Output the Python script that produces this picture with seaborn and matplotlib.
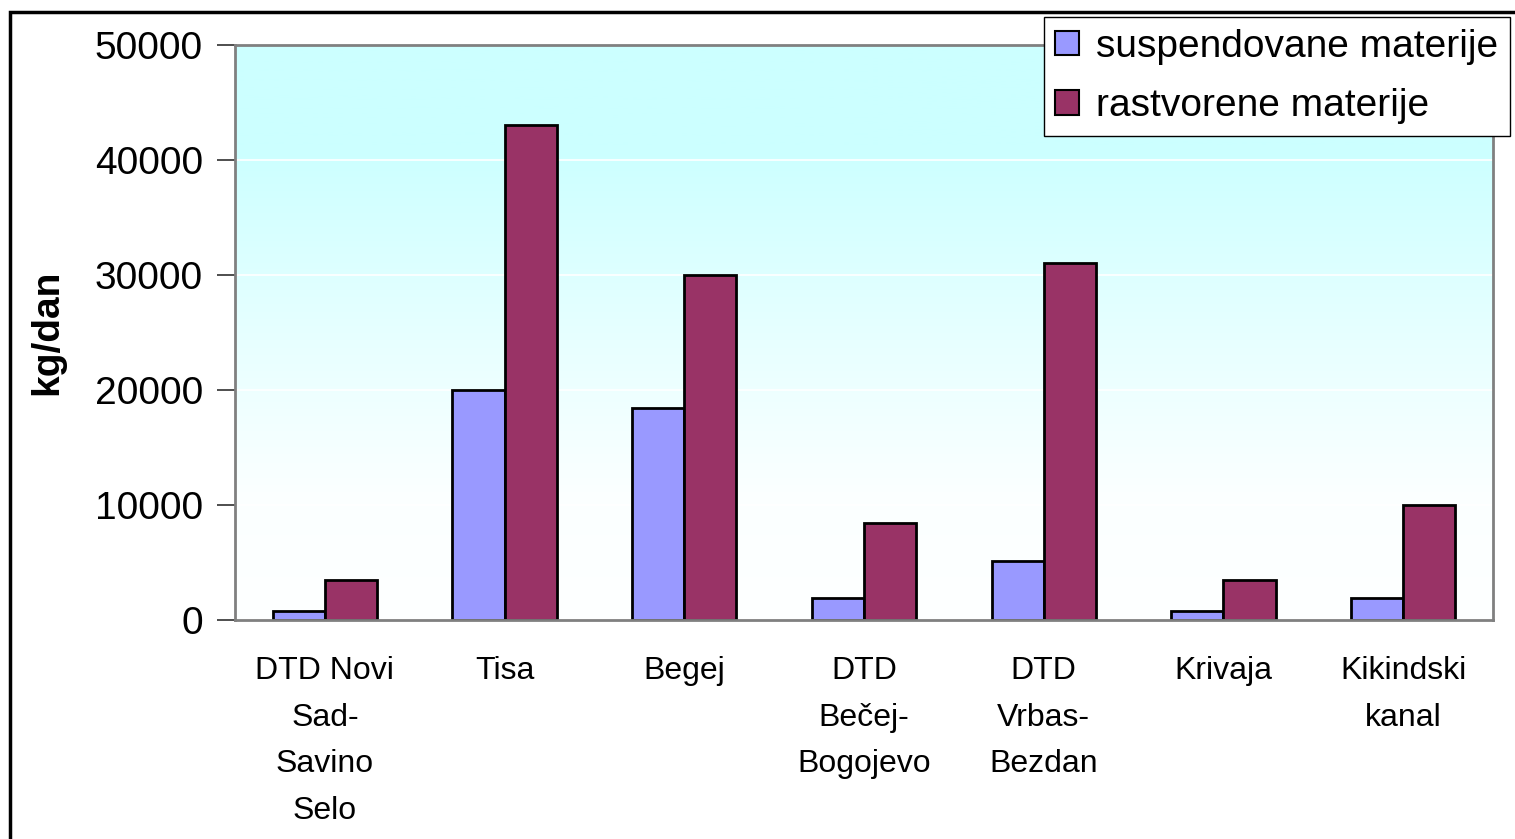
import numpy as np
import pandas as pd
import matplotlib
matplotlib.use("Agg")
import matplotlib.pyplot as plt
import seaborn as sns
from matplotlib.patches import Rectangle
from matplotlib.ticker import FixedLocator
from matplotlib.colors import LinearSegmentedColormap

categories = ["DTD Novi\nSad-\nSavino\nSelo", "Tisa", "Begej", "DTD\nBečej-\nBogojevo",
              "DTD\nVrbas-\nBezdan", "Krivaja", "Kikindski\nkanal"]
suspendovane = [800, 20000, 18400, 1900, 5100, 800, 1900]
rastvorene = [3500, 43000, 30000, 8400, 31000, 3500, 10000]
series_names = ["suspendovane materije", "rastvorene materije"]
series_colors = ["#9999FF", "#993366"]
y_ticks = [0, 10000, 20000, 30000, 40000, 50000]

df = pd.DataFrame({
    "cat": categories * 2,
    "val": suspendovane + rastvorene,
    "series": [series_names[0]] * len(categories) + [series_names[1]] * len(categories),
})

sns.set_style("white")
plt.rcParams["font.family"] = ["Liberation Sans", "DejaVu Sans"]
plt.rcParams["text.color"] = "black"
plt.rcParams["axes.labelcolor"] = "black"
plt.rcParams["xtick.color"] = "black"
plt.rcParams["ytick.color"] = "black"

W, H = 1515, 839
fig = plt.figure(figsize=(W / 100, H / 100), dpi=100)
ax = fig.add_axes([235 / W, 1 - 620 / H, (1493 - 235) / W, (620 - 45) / H])

sns.barplot(data=df, x="cat", y="val", hue="series", palette=series_colors,
            width=0.58, gap=0, edgecolor="black", linewidth=2.0, ax=ax,
            legend=True, zorder=3, saturation=1)

n = len(categories)
# gradient background: cyan at top, fading to near white at bottom
grad = np.linspace(0, 1, 512).reshape(-1, 1)
cmap = LinearSegmentedColormap.from_list(
    "bg", [(0.0, "#CCFFFF"), (0.18, "#CCFFFF"), (0.5, "#E6FFFF"), (0.78, "#FBFFFF"), (1.0, "#FEFFFF")])
ax.imshow(grad, aspect="auto", cmap=cmap, extent=(-0.5, n - 0.5, 0, 50000),
          zorder=0, origin="upper")
ax.set_xlim(-0.5, n - 0.5)
ax.set_ylim(0, 50000)

ax.set_yticks(y_ticks)
ax.set_yticklabels([str(v) for v in y_ticks], fontsize=28)
ax.yaxis.grid(True, color="white", linewidth=1.2)
for gl in ax.get_ygridlines():
    gl.set_zorder(1)

ax.set_xticks(range(n))
ax.set_xticklabels(categories, fontsize=23, linespacing=1.72, va="top")
ax.xaxis.set_minor_locator(FixedLocator(np.arange(-0.5, n, 1.0)))
ax.tick_params(axis="x", which="major", length=0, pad=26)
ax.tick_params(axis="x", which="minor", length=9, width=1.3, color="#404040", direction="out")
ax.tick_params(axis="y", which="major", length=13, width=1.3, color="#404040", direction="out",
               pad=10, left=True)

ax.set_xlabel("")
ax.set_ylabel("kg/dan", fontsize=28, fontweight="bold", labelpad=21)

for s in ax.spines.values():
    s.set_visible(True)
    s.set_color("#808080")
    s.set_linewidth(2)
    s.set_zorder(4)

handles, labels = ax.get_legend_handles_labels()
ax.legend_.remove()
leg = fig.legend(handles, labels, loc="upper right", bbox_to_anchor=(1510 / W, 1 - 17 / H),
                 fontsize=28, frameon=True, fancybox=False, framealpha=1, edgecolor="black",
                 handlelength=0.6, handleheight=0.6, handletextpad=0.45, labelspacing=0.6,
                 borderpad=0.3, borderaxespad=0)
leg.get_frame().set_linewidth(1)
for h in leg.legend_handles:
    h.set_edgecolor("black")
    h.set_linewidth(1.5)

# figure border (top and left visible)
fig.add_artist(Rectangle((10 / W, -0.5), 2.0, 1 - 12 / H + 0.5, transform=fig.transFigure,
                         fill=False, edgecolor="black", linewidth=2.5))

fig.savefig("out.png", dpi=100)
